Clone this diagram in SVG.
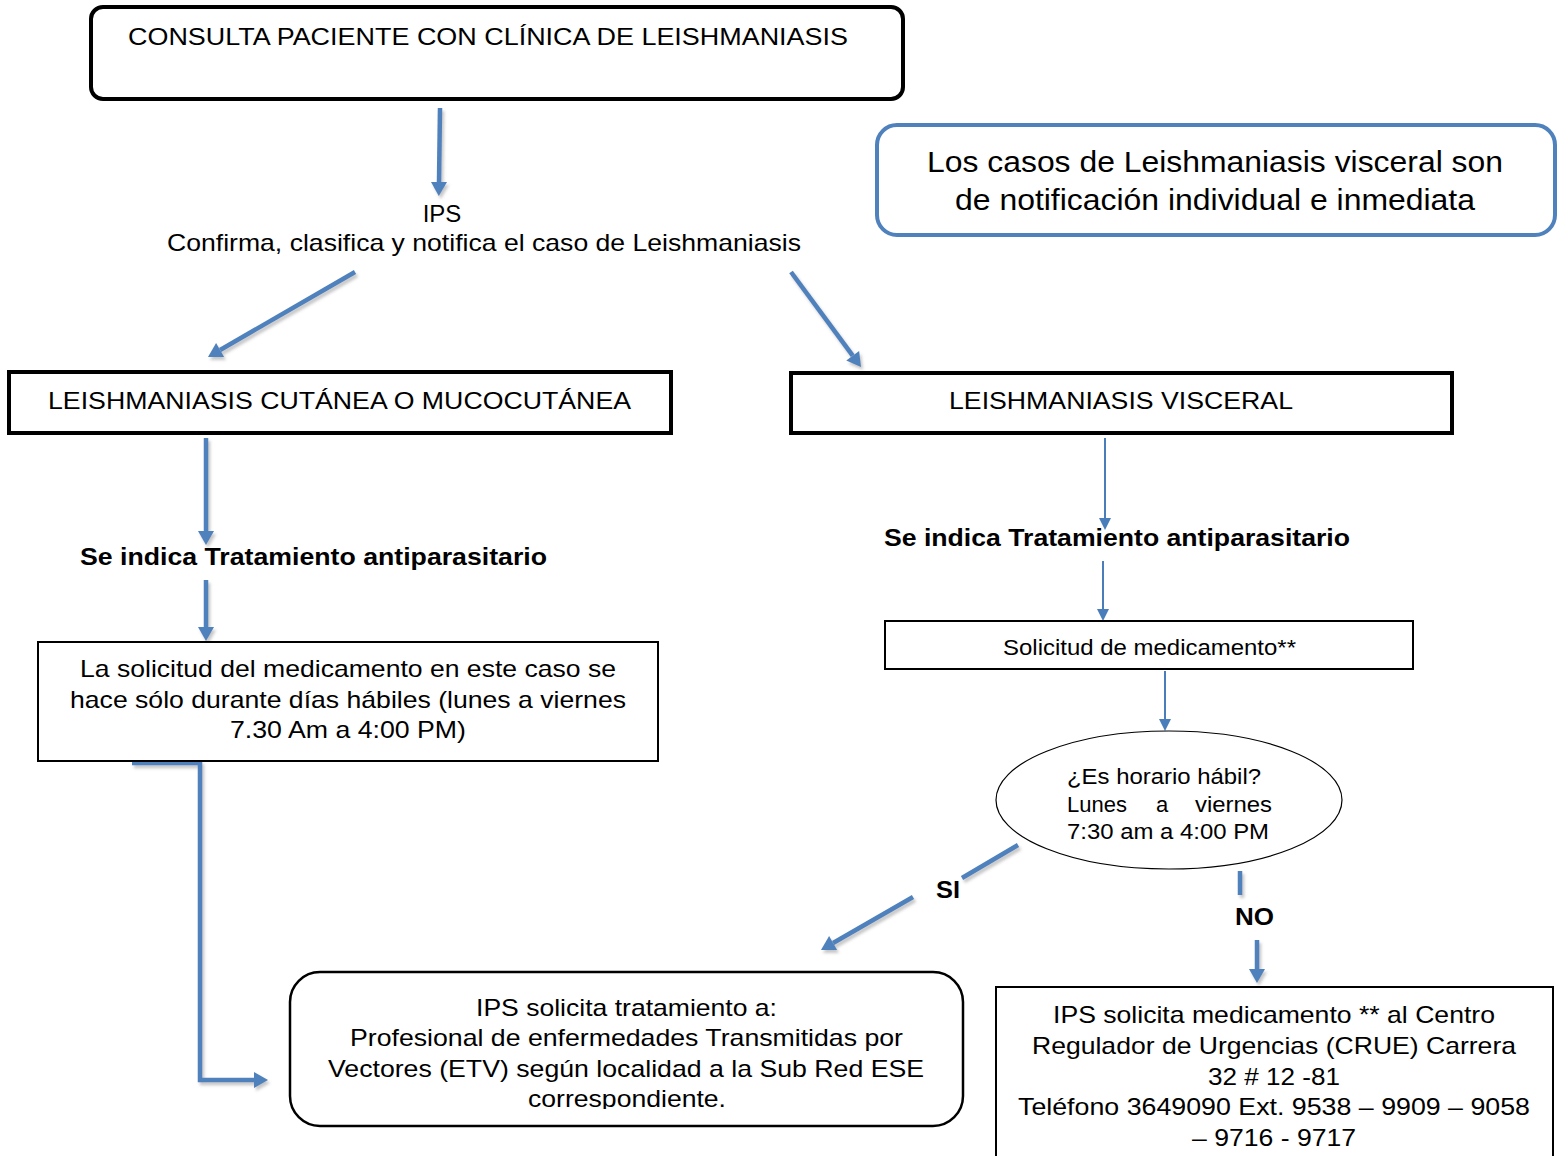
<svg xmlns="http://www.w3.org/2000/svg" width="1565" height="1156" viewBox="0 0 1565 1156">
<style>
text{font-family:"Liberation Sans",Arial,sans-serif;fill:#000}
.t24{font-size:24px}
.t22{font-size:22px}
.t30{font-size:30px}
.b{font-weight:bold;font-size:24px}
.box{fill:#fff;stroke:#000}
.thick{fill:none;stroke:#4F81BD;stroke-width:4.5;filter:url(#sh)}
.thin{fill:none;stroke:#4A7EBB;stroke-width:2}
</style>
<defs>
<filter id="sh" filterUnits="userSpaceOnUse" x="0" y="0" width="1565" height="1156">
<feDropShadow dx="2" dy="3" stdDeviation="1.5" flood-color="#808080" flood-opacity="0.45"/>
</filter>
<marker id="ah" markerUnits="userSpaceOnUse" markerWidth="18" markerHeight="18" refX="0" refY="8" orient="auto" overflow="visible">
<path d="M0,0 L14,8 L0,16 z" fill="#4F81BD"/>
</marker>
<marker id="at" markerUnits="userSpaceOnUse" markerWidth="14" markerHeight="14" refX="0" refY="6" orient="auto" overflow="visible">
<path d="M0,0 L12,6 L0,12 z" fill="#4A7EBB"/>
</marker>
<clipPath id="clipIps"><rect x="280" y="960" width="700" height="149"/></clipPath>
</defs>

<g id="connectors">
<line class="thick" x1="440" y1="108" x2="439" y2="182" marker-end="url(#ah)"/>
<line class="thick" x1="355" y1="272" x2="220.1" y2="350" marker-end="url(#ah)"/>
<line class="thick" x1="791" y1="272" x2="852.7" y2="355.7" marker-end="url(#ah)"/>
<line class="thick" x1="206" y1="438" x2="206" y2="531" marker-end="url(#ah)"/>
<line class="thick" x1="206" y1="580" x2="206" y2="627" marker-end="url(#ah)"/>
<path class="thick" d="M132,763 H200 V1080 H254" marker-end="url(#ah)"/>
<line class="thin" x1="1105" y1="438" x2="1105" y2="518" marker-end="url(#at)"/>
<line class="thin" x1="1103" y1="561" x2="1103" y2="609" marker-end="url(#at)"/>
<line class="thin" x1="1165" y1="671" x2="1165" y2="719" marker-end="url(#at)"/>
<line class="thick" x1="1018" y1="845" x2="962" y2="878"/>
<line class="thick" x1="913" y1="897" x2="833.1" y2="943" marker-end="url(#ah)"/>
<line class="thick" x1="1240" y1="871" x2="1240" y2="895"/>
<line class="thick" x1="1257" y1="940" x2="1257" y2="969" marker-end="url(#ah)"/>
<text class="b" x="936" y="898" textLength="24" lengthAdjust="spacingAndGlyphs">SI</text>
<text class="b" x="1235" y="925" textLength="39" lengthAdjust="spacingAndGlyphs">NO</text>
</g>

<g id="n-consulta">
<rect class="box" x="91" y="7" width="812" height="92" rx="12" stroke-width="4"/>
<text class="t24" x="128" y="45" textLength="720" lengthAdjust="spacingAndGlyphs">CONSULTA PACIENTE CON CLÍNICA DE LEISHMANIASIS</text>
</g>

<g id="n-ips">
<text class="t24" x="442" y="222" text-anchor="middle">IPS</text>
<text class="t24" x="167" y="251" textLength="634" lengthAdjust="spacingAndGlyphs">Confirma, clasifica y notifica el caso de Leishmaniasis</text>
</g>

<g id="n-nota">
<rect x="877" y="125" width="678" height="110" rx="20" fill="#fff" stroke="#4F81BD" stroke-width="4"/>
<text class="t30" x="927" y="172" textLength="576" lengthAdjust="spacingAndGlyphs">Los casos de Leishmaniasis visceral son</text>
<text class="t30" x="955" y="210" textLength="520" lengthAdjust="spacingAndGlyphs">de notificación individual e inmediata</text>
</g>

<g id="n-cutanea">
<rect class="box" x="9" y="372" width="662" height="61" stroke-width="4"/>
<text class="t24" x="48" y="409" textLength="583" lengthAdjust="spacingAndGlyphs">LEISHMANIASIS CUTÁNEA O MUCOCUTÁNEA</text>
</g>

<g id="n-visceral">
<rect class="box" x="791" y="373" width="661" height="60" stroke-width="4"/>
<text class="t24" x="949" y="409" textLength="344" lengthAdjust="spacingAndGlyphs">LEISHMANIASIS VISCERAL</text>
</g>

<g id="n-trat-izq">
<text class="b" x="80" y="565" textLength="467" lengthAdjust="spacingAndGlyphs">Se indica Tratamiento antiparasitario</text>
</g>

<g id="n-trat-der">
<text class="b" x="884" y="546" textLength="466" lengthAdjust="spacingAndGlyphs">Se indica Tratamiento antiparasitario</text>
</g>

<g id="n-solicitud-habil">
<rect class="box" x="38" y="642" width="620" height="119" stroke-width="2"/>
<text class="t24" x="80" y="677" textLength="536" lengthAdjust="spacingAndGlyphs">La solicitud del medicamento en este caso se</text>
<text class="t24" x="70" y="708" textLength="556" lengthAdjust="spacingAndGlyphs">hace sólo durante días hábiles (lunes a viernes</text>
<text class="t24" x="230" y="738" textLength="236" lengthAdjust="spacingAndGlyphs">7.30 Am a 4:00 PM)</text>
</g>

<g id="n-solicitud-med">
<rect class="box" x="885" y="621" width="528" height="48" stroke-width="2"/>
<text class="t22" x="1003" y="655" textLength="293" lengthAdjust="spacingAndGlyphs">Solicitud de medicamento**</text>
</g>

<g id="n-horario">
<ellipse cx="1169" cy="800" rx="173" ry="69" fill="#fff" stroke="#000" stroke-width="1.2"/>
<text class="t22" x="1067" y="784" textLength="194" lengthAdjust="spacingAndGlyphs">¿Es horario hábil?</text>
<text class="t22" x="1067" y="812">Lunes</text>
<text class="t22" x="1156" y="812">a</text>
<text class="t22" x="1195" y="812" textLength="77" lengthAdjust="spacingAndGlyphs">viernes</text>
<text class="t22" x="1067" y="839" textLength="202" lengthAdjust="spacingAndGlyphs">7:30 am a 4:00 PM</text>
</g>

<g id="n-ips-etv">
<rect class="box" x="290" y="972" width="673" height="154" rx="30" stroke-width="2.5"/>
<g clip-path="url(#clipIps)">
<text class="t24" x="476" y="1016" textLength="301" lengthAdjust="spacingAndGlyphs">IPS solicita tratamiento a:</text>
<text class="t24" x="350" y="1046" textLength="553" lengthAdjust="spacingAndGlyphs">Profesional de enfermedades Transmitidas por</text>
<text class="t24" x="328" y="1077" textLength="596" lengthAdjust="spacingAndGlyphs">Vectores (ETV) según localidad a la Sub Red ESE</text>
<text class="t24" x="528" y="1107" textLength="198" lengthAdjust="spacingAndGlyphs">correspondiente.</text>
</g>
</g>

<g id="n-crue">
<rect class="box" x="996" y="987" width="557" height="185" stroke-width="2"/>
<text class="t24" x="1053" y="1023" textLength="442" lengthAdjust="spacingAndGlyphs">IPS solicita medicamento ** al Centro</text>
<text class="t24" x="1032" y="1054" textLength="484" lengthAdjust="spacingAndGlyphs">Regulador de Urgencias (CRUE) Carrera</text>
<text class="t24" x="1208" y="1085" textLength="132" lengthAdjust="spacingAndGlyphs">32 # 12 -81</text>
<text class="t24" x="1018" y="1115" textLength="512" lengthAdjust="spacingAndGlyphs">Teléfono 3649090 Ext. 9538 – 9909 – 9058</text>
<text class="t24" x="1192" y="1146" textLength="164" lengthAdjust="spacingAndGlyphs">– 9716 - 9717</text>
</g>
</svg>
